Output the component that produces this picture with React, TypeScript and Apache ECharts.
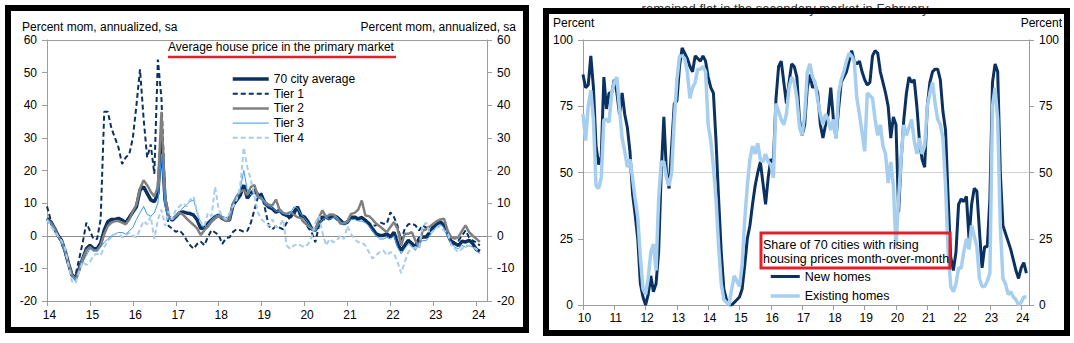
import React, { useEffect, useRef } from 'react';
import * as echarts from 'echarts';

// ---------- DATA ----------
// Left panel: monthly, Jan 2014 .. Feb 2024 (percent mom, annualized, sa)
const leftStart = 2014;
const leftYears = [2014, 2015, 2016, 2017, 2018, 2019, 2020, 2021, 2022, 2023, 2024];
const leftYTicks = [-20, -10, 0, 10, 20, 30, 40, 50, 60];

const avg70 = [
  5.3, 4.3, 2.5, 0.2, -1.3, -4.4, -8.5, -12, -13, -10,
  -7, -4, -2.9, -3.9, -4, -2.3, 1.7, 4.3, 5, 5,
  5.3, 4.8, 4, 5.6, 7.3, 8.9, 14, 15, 13, 11,
  10.4, 13, 30, 11, 5.8, 4.8, 5.8, 7, 7.3, 7,
  6.8, 6.3, 4.8, 2.2, 2.5, 3.8, 4.8, 5.8, 6.3, 5.3,
  4.8, 4.8, 9.4, 10.9, 12.4, 15.5, 11.5, 13, 14, 12.5,
  12.3, 9.8, 8.8, 8.3, 7.2, 7.8, 6.7, 6.2, 5.7, 7.2,
  8.8, 6.2, 5.7, 4.2, 2.1, 1.6, 3.7, 5.7, 5.7, 5.2,
  6.2, 5.7, 4.7, 3.7, 4.2, 5.7, 5.7, 5.2, 5.6, 4.7,
  3.7, 2.1, 0.6, 0.1, 0.1, 0.6, -0.4, 1.1, -2.4, -4.5,
  -3, -1.4, -2.4, -3.5, -0.9, -0.4, -0.4, 1.1, 2.7, 3.7,
  4.2, 3.2, 0.6, -1.9, -2.4, -3, -1.7, -1.9, -1.4, -2.4,
  -4.2, -4.8,
];
const tier1 = [
  9, 5, 2.5, 0, -2, -5, -9, -12.5, -12, -7,
  -2, 4, 1.5, -1, -1, 5, 38, 38, 33, 30,
  27, 22, 24, 25, 30, 40, 51, 36, 24, 28,
  19, 54, 42, 12, 3, 2.2, 1.2, 1.7, 0.5, -1.3,
  -2.9, -4, -2.5, -1.8, -2.9, -0.3, 1.7, 1, 0.2, -2.5,
  -0.8, -0.5, 1.2, 2, 1.7, 1.2, 1.5, 4, 8, 12,
  13, 8, 3, 2, 3, 2.5, 2, 4, 6, 6,
  9, 5, 4, 2.5, 1, -2, 3, 5, 5, 6,
  6, 5, 4, 3.5, 4.5, 5.5, 5.5, 5, 5.5, 4.5,
  4, 3, 3.2, 4.2, 3.7, 3.7, 7.2, 5.7, 3, -1.4,
  2.1, 3.5, 3.7, 3.2, 1.6, 3.2, 2.5, 2.5, 3, 3.5,
  4.2, 3, 1, -1.4, -2, -1.5, 0, 1.6, -0.5, -1.5,
  -2, -3,
];
const tier2 = [
  5, 4, 2.5, 0, -1.5, -4.5, -8.5, -12, -13.5, -10.5,
  -7, -4.5, -3.5, -4.5, -4.5, -3, 0.5, 3, 4, 4.5,
  4.5, 4, 3.5, 5, 7.5, 9.5, 14.5, 17, 15.5, 13.5,
  12, 15, 38, 12, 6, 5, 6, 7, 6.5, 5.3,
  4.3, 3.3, 2.2, 0.2, 1.7, 2.8, 4.3, 5.3, 6, 5.5,
  4.5, 5, 10, 12, 13.5, 14, 12.5, 15, 15.5, 12,
  11.3, 10.3, 9.5, 9.3, 11.1, 8, 7, 6.7, 7.2, 6.5,
  5.7, 5.4, 4, 3, 2.2, 1.6, 5.5, 7.8, 5.7, 6.5,
  6.5, 5.5, 3.7, 3.9, 4.5, 6.7, 7, 8, 10.8, 6.2,
  6, 5, 3.7, 2.9, 2, 1.1, 2.7, 4.2, 2.1, -3,
  0.6, 0.6, 1.1, -1.5, -3.5, 1.6, 2, 2.8, 3.7, 4.5,
  5, 5.2, 1.6, -0.5, -0.9, -0.4, 1.5, 3.2, 1.1, 0,
  -0.9, -1.9,
];
const tier3 = [
  5, 4, 2, 0, -2, -5, -9, -12.5, -14, -11,
  -8, -6, -4, -4.5, -4.5, -3.5, -2, -1, 0, 0.5,
  1, 1, 0.5, 1.5, 2.5, 5, 7, 9, 6.5, 6,
  7, 10, 25, 9, 5, 5, 6, 7.5, 8.5, 9.5,
  10.5, 11, 7, 3.5, 2.5, 3.5, 5, 6, 6.5, 6,
  5.5, 6, 10, 12, 14, 20, 14, 12.5, 13, 11.5,
  12, 9.5, 9, 8.5, 7.5, 7.5, 7, 6.5, 7, 8.8,
  8.5, 6.5, 5.5, 4, 2, 1.5, 3.5, 5, 5.5, 5,
  5.5, 5.5, 4.5, 3.5, 4, 5, 5, 4.5, 4.5, 4,
  3, 1.5, 0, -1, -1, -0.5, -1, 0, -3.5, -5.5,
  -4, -2.5, -3.5, -4.5, -2, -1.5, -1.5, 0, 1.5, 3,
  3.5, 2.5, 0, -2.5, -3.5, -4, -3, -3.5, -3, -3.5,
  -4.5, -5.5,
];
const tier4 = [
  5, 3, 1.5, 0, -1.5, -3.5, -9, -14, -14.5, -11,
  -8, -9, -8, -6, -5.5, -6, -3.5, -1.5, -0.5, 0.5,
  1, -0.5, 0, 1, 0, -0.5, 2, 4.5, 3.5, 6,
  -1, 5, 8, 3, 7.5, 5, 8, 9, 10, 9,
  11, 12, 7, 4, 3, 7, 6, 15, 8, 6,
  5, 7, 9, 11, 15, 27, 21, 17, 12, 7,
  5, 4, 3, 5, 2.5, 3, 5, -3, -4, -3,
  -2.5, -3, -3.5, -2.5, -0.5, 4, 6, 1, -3, -1,
  -2, -1.5, 0, -1, 3, 0.5, -1, -2, -2, -3,
  -5, -7, -6, -5, -4.5, -6, -5, -5.5, -8, -11.5,
  -8, -5, -4, -3.5, -4, 3, 4, 0.5, 1.5, 2.5,
  3, 1.5, 1, -3, -4, -5, -4, -3, -3, -3.5,
  -4, -5.5,
];

// Right panel: monthly, Jan 2010 .. Mar 2024 (share of 70 cities, %)
const rightStart = 2010;
const rightYears = [2010, 2011, 2012, 2013, 2014, 2015, 2016, 2017, 2018, 2019, 2020, 2021, 2022, 2023, 2024];
const rightYTicks = [0, 25, 50, 75, 100];

const newHomes = [
  87, 82, 83, 94, 82, 60, 53, 56, 86, 74,
  80, 80, 85, 80, 72, 80, 72, 67, 58, 42,
  34, 25, 8, 3, 0, 4, 11, 5, 8, 20,
  50, 71, 50, 44, 60, 76, 77, 90, 97, 95,
  93, 90, 88, 94, 93, 92, 94, 92, 86, 82,
  80, 62, 40, 20, 6, 2, 0, 0, 1, 2,
  3, 6, 15, 25, 30, 38, 45, 50, 54, 46,
  38, 48, 55, 54, 78, 90, 92, 84, 76, 84,
  91, 90, 86, 70, 64, 68, 82, 87, 82, 83,
  80, 68, 63, 68, 72, 82, 70, 63, 74, 84,
  86, 88, 92, 96, 92, 91, 92, 88, 85, 83,
  84, 94, 96, 95, 88, 84, 80, 75, 63, 71,
  68, 35, 55, 70, 80, 86, 84, 85, 75, 62,
  55, 52, 75, 84, 88, 89, 89, 85, 73, 66,
  40, 18, 13, 20, 38, 40, 39, 41, 25, 38,
  44, 43, 28, 14, 22, 22, 40, 84, 91, 88,
  50, 30, 27, 24, 21, 17, 13, 10, 14, 16,
  12,
];
const existingHomes = [
  72, 62, 75, 81, 70, 45, 44, 48, 70, 70,
  69, 80, 84, 86, 74, 63, 58, 52, 55, 48,
  40, 33, 18, 6, 4, 10, 20, 23, 13, 40,
  54, 54, 48, 45, 50, 70, 85, 94, 94, 93,
  88, 78, 82, 84, 89, 89, 90, 88, 68, 62,
  52, 40, 22, 8, 2, 1, 0, 6, 11, 9,
  7, 15, 32, 45, 55, 60, 57, 61, 55, 54,
  57, 54, 53, 48, 76, 73, 70, 68, 72, 82,
  86, 84, 78, 67, 64, 72, 88, 91, 86, 84,
  77, 72, 68, 72, 70, 66, 70, 63, 80, 85,
  88, 92, 95, 94, 92, 78, 72, 65, 58, 80,
  79, 78, 70, 64, 68, 60, 57, 46, 54, 45,
  22, 40, 56, 68, 64, 67, 70, 62, 57, 63,
  57, 60, 75, 80, 84, 76, 70, 68, 63, 45,
  20, 7, 5, 8, 14, 14, 20, 25, 21, 30,
  26, 22, 10, 7, 7, 9, 12, 75, 82, 70,
  30, 10, 8, 4, 5, 3, 2, 0, 1, 3,
  3,
];

// ---------- STYLE ----------
const FONT = "'Liberation Sans', Arial, Helvetica, sans-serif";
const NAVY = '#0B3160';
const GRAY = '#808080';
const BLUE = '#3A98EE';
const LIGHT = '#A8CCEC';
const EXIST = '#A6CEEF';
const RED = '#E3202A';
const AXIS = '#9C9C9C';

const monthly = (start: number, values: number[]) => values.map((v, i) => [start + i / 12, v]);
const yearLabel = (v: number) => String(Math.round(v)).slice(2);

function splitColors(ticks: number[], special: Record<number, string>) {
  return ticks.map((t) => special[t] || 'rgba(0,0,0,0)');
}

export default function App() {
  const ref = useRef<HTMLDivElement>(null);

  useEffect(() => {
    if (!ref.current) return;
    const chart = echarts.init(ref.current, undefined, { renderer: 'svg' });

    const baseLabel = { color: '#000', fontSize: 12, fontFamily: FONT };
    const yAxisCommon = (grid: number, pos: 'left' | 'right', min: number, max: number, interval: number) => ({
      type: 'value',
      gridIndex: grid,
      position: pos,
      min,
      max,
      interval,
      axisLine: { show: true, onZero: false, lineStyle: { color: AXIS, width: 1 } },
      axisTick: { show: true, inside: false, length: 5, lineStyle: { color: AXIS } },
      axisLabel: { ...baseLabel, margin: 10 },
      splitLine: { show: false },
    });

    const option: any = {
      animation: false,
      backgroundColor: '#ffffff',
      textStyle: { fontFamily: FONT },
      grid: [
        { left: 47, top: 40, width: 440, height: 261 },
        { left: 583, top: 40, width: 446, height: 265 },
      ],
      xAxis: [
        {
          type: 'value', gridIndex: 0, min: 2014, max: 2024.25, interval: 1,
          axisLine: { show: true, onZero: false, lineStyle: { color: AXIS } },
          axisTick: { show: true, length: 5, lineStyle: { color: AXIS }, customValues: leftYears },
          axisLabel: { ...baseLabel, margin: 8, customValues: leftYears, formatter: yearLabel, padding: [0, 0, 0, 5] },
          splitLine: { show: false },
        },
        {
          type: 'value', gridIndex: 1, min: 2010, max: 2024.25, interval: 1,
          axisLine: { show: true, onZero: false, lineStyle: { color: AXIS } },
          axisTick: { show: true, length: 5, lineStyle: { color: AXIS }, customValues: rightYears },
          axisLabel: { ...baseLabel, margin: 7, customValues: rightYears, formatter: yearLabel, padding: [0, 0, 0, 3] },
          splitLine: { show: false },
        },
      ],
      yAxis: [
        {
          ...yAxisCommon(0, 'left', -20, 60, 10),
          splitLine: { show: true, lineStyle: { width: 1, color: splitColors(leftYTicks, { 0: '#8C8C8C', 60: AXIS }) } },
        },
        yAxisCommon(0, 'right', -20, 60, 10),
        {
          ...yAxisCommon(1, 'left', 0, 100, 25),
          splitLine: { show: true, lineStyle: { width: 1, color: splitColors(rightYTicks, { 50: '#D4D4D4', 100: AXIS }) } },
        },
        yAxisCommon(1, 'right', 0, 100, 25),
      ],
      legend: [
        {
          data: ['70 city average', 'Tier 1', 'Tier 2', 'Tier 3', 'Tier 4'],
          orient: 'vertical', left: 231, top: 73, padding: 0,
          itemWidth: 36, itemHeight: 12, itemGap: 2.7,
          selectedMode: false,
          itemStyle: { opacity: 0 },
          lineStyle: { width: 'inherit' },
          textStyle: { ...baseLabel },
        },
        {
          data: ['New homes', 'Existing homes'],
          orient: 'vertical', left: 769, top: 270, padding: 0,
          itemWidth: 29, itemHeight: 12, itemGap: 6.5,
          selectedMode: false,
          itemStyle: { opacity: 0 },
          lineStyle: { width: 'inherit' },
          textStyle: { ...baseLabel, fontSize: 12.5 },
        },
      ],
      series: [
        { name: '70 city average', type: 'line', xAxisIndex: 0, yAxisIndex: 0, symbol: 'none', color: NAVY,
          data: monthly(leftStart, avg70), lineStyle: { color: NAVY, width: 3.5 }, z: 2 },
        { name: 'Tier 1', type: 'line', xAxisIndex: 0, yAxisIndex: 0, symbol: 'none', color: NAVY,
          data: monthly(leftStart, tier1), lineStyle: { color: NAVY, width: 2, type: [5, 3] }, z: 3 },
        { name: 'Tier 2', type: 'line', xAxisIndex: 0, yAxisIndex: 0, symbol: 'none', color: GRAY,
          data: monthly(leftStart, tier2), lineStyle: { color: GRAY, width: 2.5 }, z: 4 },
        { name: 'Tier 3', type: 'line', xAxisIndex: 0, yAxisIndex: 0, symbol: 'none', color: BLUE,
          data: monthly(leftStart, tier3), lineStyle: { color: BLUE, width: 1 }, z: 5 },
        { name: 'Tier 4', type: 'line', xAxisIndex: 0, yAxisIndex: 0, symbol: 'none', color: LIGHT,
          data: monthly(leftStart, tier4), lineStyle: { color: LIGHT, width: 2, type: [5, 3] }, z: 6 },
        { name: 'New homes', type: 'line', xAxisIndex: 1, yAxisIndex: 2, symbol: 'none', color: NAVY,
          data: monthly(rightStart, newHomes), lineStyle: { color: NAVY, width: 3 }, z: 2 },
        { name: 'Existing homes', type: 'line', xAxisIndex: 1, yAxisIndex: 2, symbol: 'none', color: EXIST,
          data: monthly(rightStart, existingHomes), lineStyle: { color: EXIST, width: 3.5 }, z: 3 },
      ],
      graphic: [
        // background document fragments around the frames
        { type: 'text', x: 785, y: 8, z: 1, style: { text: 'remained flat in the secondary market in February', fill: '#333', fontSize: 13, fontFamily: FONT, align: 'center', verticalAlign: 'middle' } },
        // frames
        { type: 'rect', z: 50, shape: { x: 8, y: 8, width: 518, height: 322 }, style: { fill: 'none', stroke: '#000', lineWidth: 6 } },
        { type: 'rect', z: 50, shape: { x: 546, y: 11, width: 521, height: 322 }, style: { fill: 'none', stroke: '#000', lineWidth: 6 } },
        // left panel texts
        { type: 'text', x: 22, y: 27, z: 60, style: { text: 'Percent mom, annualized, sa', fill: '#000', fontSize: 12, fontFamily: FONT, align: 'left', verticalAlign: 'middle' } },
        { type: 'text', x: 516, y: 27, z: 60, style: { text: 'Percent mom, annualized, sa', fill: '#000', fontSize: 12, fontFamily: FONT, align: 'right', verticalAlign: 'middle' } },
        { type: 'text', x: 168, y: 47, z: 60, style: { text: 'Average house price in the primary market', fill: '#000', fontSize: 12, fontFamily: FONT, align: 'left', verticalAlign: 'middle' } },
        { type: 'line', z: 60, shape: { x1: 168, y1: 57, x2: 396, y2: 57 }, style: { stroke: RED, lineWidth: 2.5 } },
        // right panel texts
        { type: 'text', x: 553, y: 23, z: 60, style: { text: 'Percent', fill: '#000', fontSize: 12, fontFamily: FONT, align: 'left', verticalAlign: 'middle' } },
        { type: 'text', x: 1062, y: 23, z: 60, style: { text: 'Percent', fill: '#000', fontSize: 12, fontFamily: FONT, align: 'right', verticalAlign: 'middle' } },
        { type: 'rect', z: 60, shape: { x: 761, y: 233, width: 189, height: 35 }, style: { fill: 'none', stroke: RED, lineWidth: 3 } },
        { type: 'text', x: 763, y: 245, z: 61, style: { text: 'Share of 70 cities with rising', fill: '#000', fontSize: 12.5, fontFamily: FONT, align: 'left', verticalAlign: 'middle' } },
        { type: 'text', x: 763, y: 259, z: 61, style: { text: 'housing prices month-over-month', fill: '#000', fontSize: 12.5, fontFamily: FONT, align: 'left', verticalAlign: 'middle' } },
      ],
    };

    chart.setOption(option);
    return () => chart.dispose();
  }, []);

  return <div ref={ref} style={{ position: 'absolute', left: 0, top: 0, width: 1074, height: 343 }} />;
}
